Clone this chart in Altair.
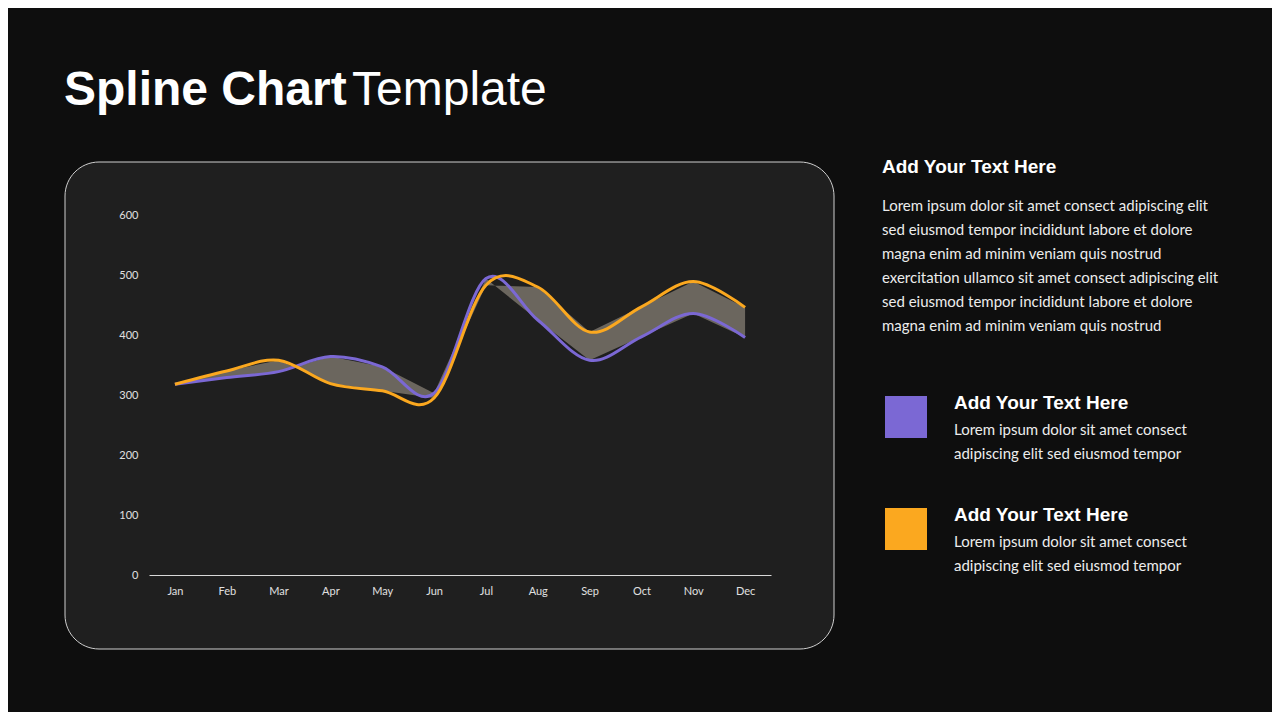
import altair as alt
import pandas as pd

months = ["Jan", "Feb", "Mar", "Apr", "May", "Jun", "Jul", "Aug", "Sep", "Oct", "Nov", "Dec"]
series_purple = [318, 329, 339, 364, 347, 303, 494, 425, 358, 397, 436, 396]
series_orange = [318, 340, 358, 319, 307, 295, 483, 480, 405, 447, 489, 446]
y_ticks = [0, 100, 200, 300, 400, 500, 600]
series_names = ["Series 1", "Series 2"]
series_colors = ["#7B68D4", "#FBA81F"]

title_bold = "Spline Chart"
title_regular = "Template"
heading = "Add Your Text Here"
body_main = [
    "Lorem ipsum dolor sit amet consect adipiscing elit",
    "sed eiusmod tempor incididunt  labore et dolore",
    "magna  enim ad minim veniam quis nostrud",
    "exercitation ullamco sit amet consect adipiscing elit",
    "sed eiusmod tempor incididunt  labore et dolore",
    "magna   enim ad minim veniam quis nostrud",
]
body_small = [
    "Lorem ipsum dolor sit amet consect",
    "adipiscing elit sed eiusmod tempor",
]

wide = pd.DataFrame({"month": months, "purple": series_purple, "orange": series_orange})
long = pd.concat([
    pd.DataFrame({"month": months, "value": series_purple, "series": series_names[0]}),
    pd.DataFrame({"month": months, "value": series_orange, "series": series_names[1]}),
])

W, H = 622, 360
TOTAL_W, TOTAL_H = 1264, 704
PAD_L, PAD_T = 141, 207

x_enc = alt.X(
    "month:N",
    sort=months,
    scale=alt.Scale(type="point", domain=months, padding=0.5),
    axis=alt.Axis(
        title=None, labelColor="#e0e0e0", labelFont="Lato", labelFontSize=11,
        labelPadding=10, ticks=False, domain=True, domainColor="#d9d9d9",
        domainWidth=1, grid=False, labelAngle=0, zindex=1,
    ),
)
y_scale = alt.Scale(domain=[0, 600], nice=False, zero=True)
y_axis = alt.Axis(
    title=None, values=y_ticks, labelColor="#e0e0e0", labelFont="Lato",
    labelFontSize=11, labelPadding=11, ticks=False, domain=False, grid=False, zindex=1,
)

one = pd.DataFrame({"k": [0]})

panel = alt.Chart(one).mark_rect(
    cornerRadius=34, fill="#1f1f1f", stroke="#cfcfcf", strokeWidth=1
).encode(
    x=alt.value(-84), x2=alt.value(685), y=alt.value(-53), y2=alt.value(434)
)

area = alt.Chart(wide).mark_area(interpolate="linear", color="#6b665e").encode(
    x=x_enc,
    y=alt.Y("purple:Q", scale=y_scale, axis=y_axis),
    y2="orange:Q",
)

lines = alt.Chart(long).mark_line(interpolate="cardinal", strokeWidth=3).encode(
    x=x_enc,
    y=alt.Y("value:Q", scale=y_scale, axis=y_axis),
    color=alt.Color("series:N", scale=alt.Scale(domain=series_names, range=series_colors), legend=None),
)

def txt(text, x, y, size, weight="normal", font="Lato", color="#ffffff", line_height=None):
    kw = dict(align="left", baseline="alphabetic", fontSize=size, fontWeight=weight, font=font, color=color)
    if line_height is not None:
        kw["lineHeight"] = line_height
    return alt.Chart(one).mark_text(**kw).encode(
        x=alt.value(x), y=alt.value(y), text=alt.value(text)
    )

def square(color, y0):
    return alt.Chart(one).mark_rect(color=color).encode(
        x=alt.value(736), x2=alt.value(778), y=alt.value(y0), y2=alt.value(y0 + 42)
    )

layers = [
    panel,
    area,
    lines,
    txt(title_bold, -85, -110, 48, "bold", "Liberation Sans"),
    txt(title_regular, 203, -110, 48, "normal", "Liberation Sans"),
    txt(heading, 733, -42, 19, "bold", "Liberation Sans"),
    txt(body_main, 733, -4, 15, color="#ececec", line_height=24),
    square(series_colors[0], 181),
    txt(heading, 805, 194, 19, "bold", "Liberation Sans"),
    txt(body_small, 805, 220, 15, color="#ececec", line_height=24),
    square(series_colors[1], 293),
    txt(heading, 805, 306, 19, "bold", "Liberation Sans"),
    txt(body_small, 805, 332, 15, color="#ececec", line_height=24),
]

chart = alt.layer(*layers).properties(
    width=W, height=H,
    autosize=alt.AutoSizeParams(type="none"),
    padding={"left": PAD_L, "top": PAD_T, "right": TOTAL_W - PAD_L - W, "bottom": TOTAL_H - PAD_T - H},
).configure(background="#0e0e0e").configure_view(stroke=None)

chart.save("out.html", embed_options={"renderer": "svg", "actions": False})
